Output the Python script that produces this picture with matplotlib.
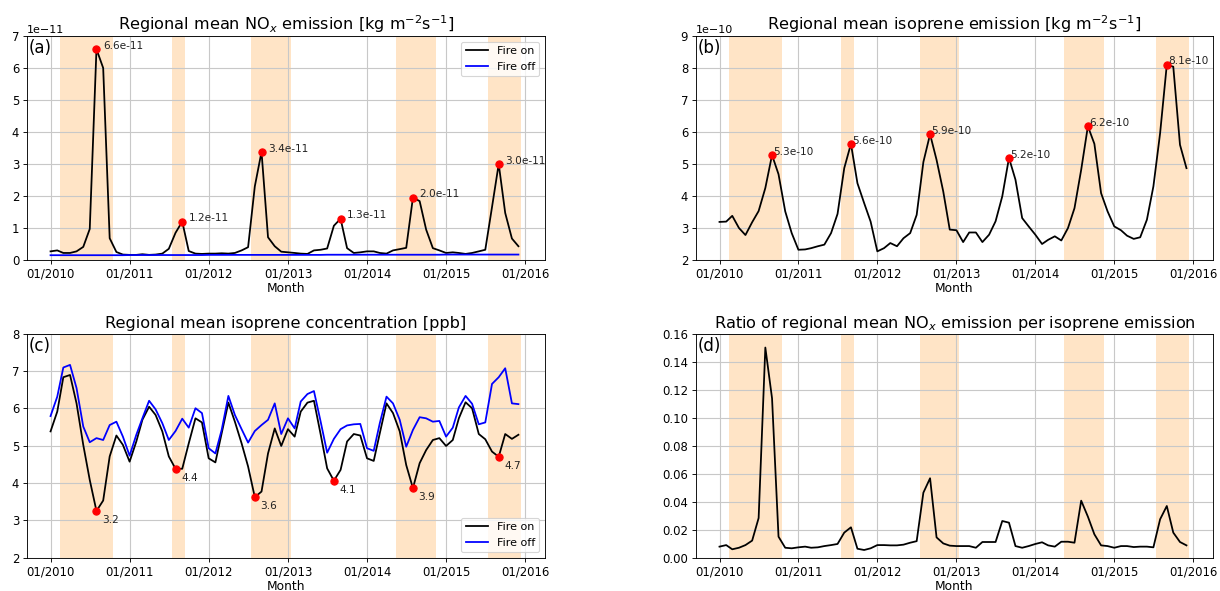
import matplotlib
matplotlib.use("Agg")
import matplotlib.pyplot as plt
import matplotlib.dates as mdates
import pandas as pd
import numpy as np

months = pd.date_range("2010-01-01", periods=72, freq="MS")

# fire season shading (start, end)
span_starts = ["2010-02-15", "2011-07-15", "2012-07-15", "2014-05-15", "2015-07-15"]
span_ends = ["2010-10-15", "2011-09-15", "2013-01-15", "2014-11-15", "2015-12-15"]

# (a) NOx emission, units 1e-11 kg m-2 s-1
nox_on = [0.27, 0.30, 0.22, 0.22, 0.27, 0.41, 0.97, 6.59, 6.00, 0.68, 0.25, 0.17,
          0.16, 0.16, 0.18, 0.16, 0.17, 0.20, 0.35, 0.85, 1.20, 0.28, 0.20, 0.19,
          0.20, 0.20, 0.21, 0.20, 0.22, 0.30, 0.40, 2.30, 3.38, 0.71, 0.43, 0.26,
          0.24, 0.22, 0.20, 0.19, 0.30, 0.32, 0.36, 1.07, 1.29, 0.37, 0.22, 0.24,
          0.27, 0.27, 0.22, 0.20, 0.30, 0.34, 0.38, 1.95, 1.84, 0.95, 0.37, 0.30,
          0.22, 0.24, 0.22, 0.19, 0.22, 0.27, 0.32, 1.65, 3.00, 1.47, 0.67, 0.43]
nox_off = [0.15, 0.15, 0.15, 0.15, 0.15, 0.15, 0.15, 0.15, 0.15, 0.15, 0.15, 0.15,
           0.155, 0.155, 0.155, 0.155, 0.155, 0.155, 0.155, 0.155, 0.155, 0.155, 0.155, 0.155,
           0.16, 0.16, 0.16, 0.16, 0.16, 0.16, 0.16, 0.16, 0.16, 0.16, 0.16, 0.16,
           0.16, 0.16, 0.16, 0.16, 0.16, 0.16, 0.165, 0.165, 0.165, 0.165, 0.165, 0.165,
           0.165, 0.165, 0.165, 0.165, 0.165, 0.165, 0.165, 0.165, 0.165, 0.165, 0.165, 0.165,
           0.17, 0.17, 0.17, 0.17, 0.17, 0.17, 0.17, 0.17, 0.17, 0.17, 0.17, 0.17]
nox_peak_idx = [7, 20, 32, 44, 55, 68]
nox_peak_labels = ["6.6e-11", "1.2e-11", "3.4e-11", "1.3e-11", "2.0e-11", "3.0e-11"]

# (b) isoprene emission, units 1e-10 kg m-2 s-1
iso_emis = [3.19, 3.20, 3.38, 3.00, 2.78, 3.18, 3.53, 4.25, 5.28, 4.68, 3.52, 2.84,
            2.32, 2.33, 2.37, 2.43, 2.48, 2.84, 3.44, 4.87, 5.63, 4.40, 3.78, 3.20,
            2.27, 2.37, 2.53, 2.43, 2.68, 2.84, 3.41, 5.06, 5.93, 5.13, 4.14, 2.95,
            2.93, 2.56, 2.86, 2.86, 2.56, 2.79, 3.21, 3.99, 5.19, 4.51, 3.31, 3.05,
            2.79, 2.50, 2.63, 2.74, 2.61, 3.00, 3.62, 4.82, 6.18, 5.63, 4.09, 3.52,
            3.05, 2.93, 2.76, 2.66, 2.71, 3.26, 4.30, 5.96, 8.10, 8.04, 5.60, 4.87]
iso_peak_idx = [8, 20, 32, 44, 56, 68]
iso_peak_labels = ["5.3e-10", "5.6e-10", "5.9e-10", "5.2e-10", "6.2e-10", "8.1e-10"]

# (c) isoprene concentration [ppb]
conc_on = [5.38, 5.91, 6.83, 6.89, 6.13, 5.02, 4.08, 3.25, 3.53, 4.71, 5.27, 5.02,
           4.57, 5.11, 5.69, 6.04, 5.82, 5.38, 4.71, 4.38, 4.38, 5.06, 5.73, 5.62,
           4.66, 4.55, 5.33, 6.15, 5.64, 5.06, 4.44, 3.62, 3.77, 4.79, 5.46, 4.99,
           5.44, 5.24, 5.91, 6.15, 6.20, 5.30, 4.39, 4.06, 4.35, 5.11, 5.31, 5.27,
           4.66, 4.59, 5.33, 6.13, 5.87, 5.38, 4.48, 3.86, 4.53, 4.88, 5.15, 5.20,
           4.99, 5.15, 5.73, 6.16, 6.00, 5.31, 5.17, 4.84, 4.70, 5.31, 5.18, 5.29]
conc_off = [5.79, 6.31, 7.09, 7.16, 6.54, 5.51, 5.09, 5.20, 5.15, 5.55, 5.64, 5.24,
            4.73, 5.29, 5.73, 6.20, 5.97, 5.60, 5.15, 5.39, 5.72, 5.48, 6.00, 5.87,
            4.93, 4.79, 5.42, 6.33, 5.82, 5.44, 5.08, 5.39, 5.55, 5.69, 6.13, 5.31,
            5.73, 5.46, 6.18, 6.38, 6.46, 5.64, 4.81, 5.18, 5.44, 5.54, 5.57, 5.58,
            4.93, 4.86, 5.60, 6.31, 6.13, 5.69, 4.97, 5.42, 5.76, 5.73, 5.64, 5.66,
            5.24, 5.48, 6.02, 6.33, 6.12, 5.57, 5.62, 6.65, 6.83, 7.07, 6.13, 6.11]
conc_min_idx = [7, 19, 31, 43, 55, 68]
conc_min_labels = ["3.2", "4.4", "3.6", "4.1", "3.9", "4.7"]

# (d) ratio NOx / isoprene emission
ratio = [0.0079, 0.0090, 0.0060, 0.0071, 0.0090, 0.0122, 0.0283, 0.1500, 0.1138, 0.0150, 0.0071, 0.0067,
         0.0074, 0.0079, 0.0071, 0.0074, 0.0083, 0.0090, 0.0098, 0.0179, 0.0217, 0.0064, 0.0055, 0.0067,
         0.0090, 0.0090, 0.0088, 0.0088, 0.0093, 0.0107, 0.0118, 0.0464, 0.0567, 0.0145, 0.0102, 0.0086,
         0.0083, 0.0083, 0.0083, 0.0071, 0.0112, 0.0112, 0.0112, 0.0262, 0.0250, 0.0083, 0.0071, 0.0083,
         0.0098, 0.0110, 0.0088, 0.0079, 0.0114, 0.0114, 0.0107, 0.0407, 0.0293, 0.0167, 0.0088, 0.0083,
         0.0071, 0.0083, 0.0083, 0.0076, 0.0079, 0.0079, 0.0074, 0.0274, 0.0369, 0.0179, 0.0112, 0.0088]

DPI = 80
fig = plt.figure(figsize=(1220 / DPI, 591 / DPI), dpi=DPI)
W, H = 1220, 591


def make_ax(l, r, t, b):
    return fig.add_axes([l / W, 1 - b / H, (r - l) / W, (b - t) / H])


axa = make_ax(27, 545, 36, 260)
axb = make_ax(696, 1213, 36, 260)
axc = make_ax(27, 545, 333.5, 557.7)
axd = make_ax(696, 1213, 333.5, 557.7)

span_color = "#ffe4c6"


def common(ax, label, title):
    for s, e in zip(span_starts, span_ends):
        ax.axvspan(pd.Timestamp(s), pd.Timestamp(e), color=span_color, lw=0)
    ax.grid(True, color="#c8c8c8", lw=1.0)
    ax.xaxis.set_major_locator(mdates.YearLocator())
    ax.xaxis.set_major_formatter(mdates.DateFormatter("%m/%Y"))
    ax.set_xlabel("Month", labelpad=1, fontsize=11)
    ax.set_title(title, fontsize=14.5, pad=5)
    ax.text(0.004, 0.985, label, transform=ax.transAxes, fontsize=15,
            ha="left", va="top")
    ax.tick_params(labelsize=10.5)
    ax.yaxis.get_offset_text().set_fontsize(10)


# (a)
scale_a = 1e-11
axa.plot(months, np.array(nox_on) * scale_a, color="black", lw=1.6, label="Fire on")
axa.plot(months, np.array(nox_off) * scale_a, color="blue", lw=1.6, label="Fire off")
for i, lab in zip(nox_peak_idx, nox_peak_labels):
    axa.plot(months[i], nox_on[i] * scale_a, "o", color="red", ms=6.5, zorder=5)
    axa.annotate(lab, (months[i], nox_on[i] * scale_a), xytext=(6, 3),
                 textcoords="offset points", ha="left", va="center", fontsize=9.5,
                 color="#222222")
axa.set_ylim(0, 7e-11)
common(axa, "(a)", "Regional mean NO$_x$ emission [kg m$^{-2}$s$^{-1}$]")
axa.legend(loc="upper right", fontsize=10)

# (b)
scale_b = 1e-10
axb.plot(months, np.array(iso_emis) * scale_b, color="black", lw=1.6)
for i, lab in zip(iso_peak_idx, iso_peak_labels):
    axb.plot(months[i], iso_emis[i] * scale_b, "o", color="red", ms=6.5, zorder=5)
    axb.annotate(lab, (months[i], iso_emis[i] * scale_b), xytext=(1, 3),
                 textcoords="offset points", ha="left", va="center", fontsize=9.5,
                 color="#222222")
axb.set_ylim(2e-10, 9e-10)
common(axb, "(b)", "Regional mean isoprene emission [kg m$^{-2}$s$^{-1}$]")

# (c)
axc.plot(months, conc_on, color="black", lw=1.6, label="Fire on")
axc.plot(months, conc_off, color="blue", lw=1.6, label="Fire off")
for i, lab in zip(conc_min_idx, conc_min_labels):
    axc.plot(months[i], conc_on[i], "o", color="red", ms=6.5, zorder=5)
    axc.annotate(lab, (months[i], conc_on[i]), xytext=(5, -8),
                 textcoords="offset points", ha="left", va="center", fontsize=9.5,
                 color="#222222")
axc.set_ylim(2, 8)
common(axc, "(c)", "Regional mean isoprene concentration [ppb]")
axc.legend(loc="lower right", fontsize=10)

# (d)
axd.plot(months, ratio, color="black", lw=1.6)
axd.set_ylim(0, 0.16)
axd.set_yticks(np.arange(0, 0.161, 0.02))
axd.yaxis.set_major_formatter(matplotlib.ticker.FormatStrFormatter("%.2f"))
common(axd, "(d)", "Ratio of regional mean NO$_x$ emission per isoprene emission")

fig.savefig("out.png", dpi=DPI)
